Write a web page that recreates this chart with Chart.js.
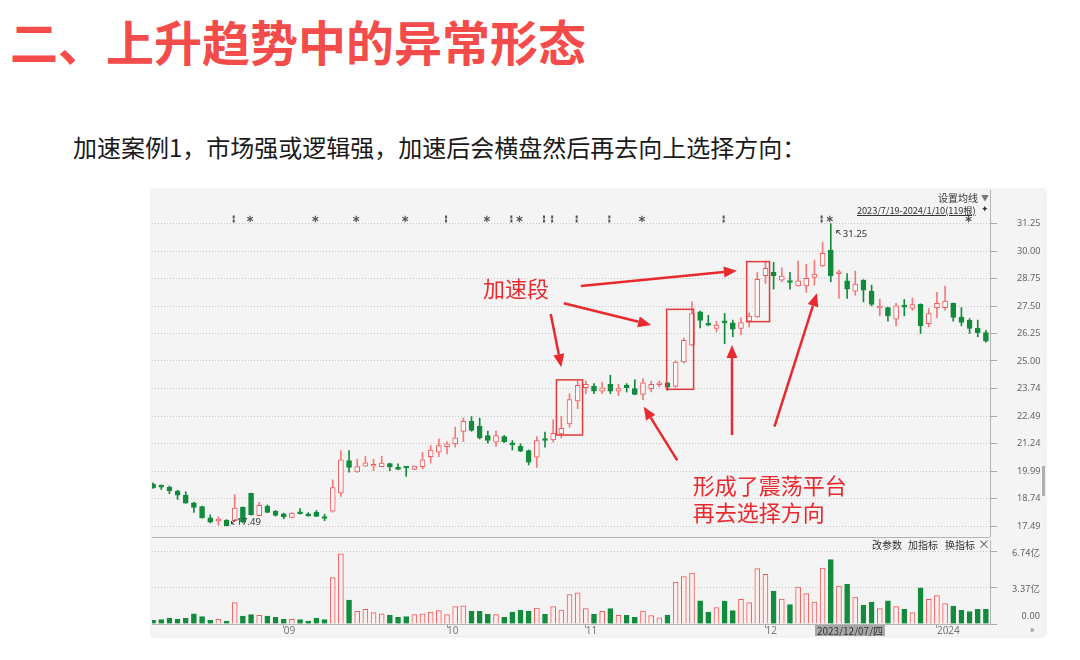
<!DOCTYPE html>
<html lang="zh">
<head>
<meta charset="utf-8">
<title>上升趋势中的异常形态</title>
<script src="https://cdn.jsdelivr.net/npm/chart.js@4.4.1/dist/chart.umd.min.js"></script>
<style>
  body { margin:0; width:1080px; height:660px; background:#fff; position:relative; overflow:hidden;
         font-family:"Noto Sans CJK SC","Noto Sans",sans-serif; }
  #title { position:absolute; left:10px; top:16px; font-size:48px; line-height:48px; font-weight:bold; color:#f44b4b; white-space:nowrap; }
  #sub { position:absolute; left:73px; top:135px; font-size:24px; line-height:24px; color:#1a1a1a; white-space:nowrap; }
  #panel { position:absolute; left:152px; top:190px; width:893px; height:446px; background:#f4f4f4; overflow:hidden;
           box-shadow:0 0 3px rgba(0,0,0,.18); }
  #panel canvas { position:absolute; left:-3px; }
  #kline { top:0; }
  #vol { top:347px; }
  .t { position:absolute; font-size:10px; line-height:12px; color:#333; white-space:nowrap; }
  #sep { position:absolute; left:0; top:347px; width:838px; height:1px; background:#b4b4b4; }
  #range { text-decoration:underline; font-size:9.3px; letter-spacing:-0.1px; }
  #dbox { position:absolute; left:663px; top:435px; width:70px; height:12px; background:#a8a8a8; color:#333;
          font-size:10px; line-height:12px; text-align:center; }
  #scroll { position:absolute; left:890px; top:276px; width:3px; height:30px; background:#b0b0b0; }
</style>
</head>
<body>
<div id="title">二、上升趋势中的异常形态</div>
<div id="sub">加速案例1，市场强或逻辑强，加速后会横盘然后再去向上选择方向：</div>

<div id="panel">
  <canvas id="kline" width="896" height="347"></canvas>
  <canvas id="vol" width="896" height="99"></canvas>
  <div id="sep"></div>
  <div class="t" style="left:786px;top:2px;">设置均线</div>
  <div class="t" style="left:829px;top:2px;color:#777;font-size:8px;">▼</div>
  <div class="t" id="range" style="left:705px;top:14px;">2023/7/19-2024/1/10(119根)</div>
  <div class="t" style="left:829px;top:13px;font-size:9px;">✦</div>
  <div class="t" style="left:720px;top:349px;">改参数</div>
  <div class="t" style="left:756px;top:349px;">加指标</div>
  <div class="t" style="left:793px;top:349px;">换指标</div>
  <div class="t" style="left:826px;top:348px;font-size:12px;color:#555;">×</div>
  <div id="dbox">2023/12/07/四</div>
  <div class="t" style="left:878px;top:434px;font-size:9px;color:#555;">»</div>
  <div id="scroll"></div>
</div>

<script>
// 交易日（可见区间 119 根中的后 103 根）
const dates = [
  '2023/08/10','2023/08/11','2023/08/14','2023/08/15','2023/08/16','2023/08/17','2023/08/18','2023/08/21',
  '2023/08/22','2023/08/23','2023/08/24','2023/08/25','2023/08/28','2023/08/29','2023/08/30','2023/08/31',
  '2023/09/01','2023/09/04','2023/09/05','2023/09/06','2023/09/07','2023/09/08','2023/09/11','2023/09/12',
  '2023/09/13','2023/09/14','2023/09/15','2023/09/18','2023/09/19','2023/09/20','2023/09/21','2023/09/22',
  '2023/09/25','2023/09/26','2023/09/27','2023/09/28',
  '2023/10/09','2023/10/10','2023/10/11','2023/10/12','2023/10/13','2023/10/16','2023/10/17','2023/10/18',
  '2023/10/19','2023/10/20','2023/10/23','2023/10/24','2023/10/25','2023/10/26','2023/10/27','2023/10/30','2023/10/31',
  '2023/11/01','2023/11/02','2023/11/03','2023/11/06','2023/11/07','2023/11/08','2023/11/09','2023/11/10',
  '2023/11/13','2023/11/14','2023/11/15','2023/11/16','2023/11/17','2023/11/20','2023/11/21','2023/11/22',
  '2023/11/23','2023/11/24','2023/11/27','2023/11/28','2023/11/29','2023/11/30',
  '2023/12/01','2023/12/04','2023/12/05','2023/12/06','2023/12/07','2023/12/08','2023/12/11','2023/12/12',
  '2023/12/13','2023/12/14','2023/12/15','2023/12/18','2023/12/19','2023/12/20','2023/12/21','2023/12/22',
  '2023/12/25','2023/12/26','2023/12/27','2023/12/28','2023/12/29',
  '2024/01/02','2024/01/03','2024/01/04','2024/01/05','2024/01/08','2024/01/09','2024/01/10'
];

const open = [
  19.40,19.33,19.25,19.08,18.90,18.55,18.37,17.86,17.72,17.76,17.73,18.34,18.98,17.96,18.38,18.16,
  18.04,17.88,18.11,18.05,18.11,17.92,18.16,18.98,20.47,19.95,20.21,20.21,20.19,20.33,20.16,20.16,
  20.07,20.19,20.64,20.85,21.10,21.23,21.79,22.25,22.03,21.61,21.30,21.56,21.20,21.12,20.92,20.62,
  21.46,21.41,21.68,22.14,23.18,23.78,23.86,23.63,23.94,23.63,23.89,23.74,23.48,23.74,23.92,24.00,
  23.84,24.96,25.72,27.24,26.70,26.48,26.81,26.73,26.48,26.81,27.01,28.88,29.03,28.68,28.64,28.42,
  28.42,28.80,29.33,30.05,28.97,28.65,28.18,28.68,28.18,27.41,27.43,26.90,27.51,27.39,27.58,26.70,
  27.42,27.42,27.62,27.00,26.85,26.48,26.29
];
const high = [
  19.45,19.36,19.31,19.12,19.05,18.57,18.40,18.00,17.91,17.78,18.92,18.36,18.99,18.57,18.45,18.20,
  18.08,18.10,18.28,18.10,18.20,18.03,19.59,20.92,20.92,20.53,20.67,20.53,20.67,20.35,20.32,20.17,
  20.22,20.85,21.15,21.46,21.33,21.99,22.41,22.47,22.40,21.81,21.81,21.61,21.38,21.23,20.95,21.56,
  21.76,22.32,22.47,23.51,24.09,24.09,23.97,24.04,24.35,23.94,23.97,24.15,24.19,24.09,24.09,24.02,
  25.00,26.05,27.69,27.27,27.08,26.81,27.16,26.86,26.96,27.19,29.03,29.55,29.49,29.24,29.03,29.55,
  29.40,29.59,30.40,31.25,29.14,28.98,29.09,28.70,28.45,27.81,27.45,27.62,27.80,27.87,27.60,27.39,
  28.12,28.41,27.64,27.43,26.93,26.86,26.40
];
const low = [
  19.20,19.15,18.96,18.70,18.52,18.11,17.85,17.63,17.52,17.49,17.70,17.63,17.98,17.95,18.10,17.94,
  17.82,17.86,18.03,17.93,17.92,17.73,18.12,18.84,19.94,19.93,20.20,20.01,20.18,20.01,20.05,19.75,
  20.06,20.09,20.36,20.64,20.77,21.08,21.33,21.80,21.45,21.26,21.11,21.28,20.95,20.87,20.27,20.16,
  21.08,21.30,21.49,21.99,22.83,23.51,23.51,23.51,23.51,23.43,23.59,23.46,23.24,23.59,23.82,23.66,
  23.80,24.90,25.70,26.50,26.60,26.32,25.79,26.10,26.20,26.55,26.99,28.53,28.27,28.60,28.27,28.40,
  28.12,28.45,29.30,28.60,27.85,27.85,27.99,27.69,27.50,27.05,26.81,26.60,27.05,27.30,26.25,26.55,
  26.96,27.30,26.81,26.60,26.25,26.10,25.85
];
const close = [
  19.22,19.26,19.10,18.89,18.53,18.34,17.86,17.66,17.74,17.50,18.31,17.66,18.01,18.43,18.11,17.97,
  17.90,18.08,18.05,17.95,17.93,17.83,19.24,20.50,20.16,20.19,20.36,20.22,20.35,20.18,20.07,20.13,
  20.22,20.50,20.95,21.15,21.23,21.50,22.25,21.84,21.50,21.38,21.61,21.33,21.18,20.89,20.39,21.38,
  21.38,21.71,21.94,23.24,23.89,23.94,23.63,23.78,23.63,23.74,23.78,23.48,24.00,23.94,23.94,23.81,
  24.95,25.94,27.16,26.85,26.63,26.63,26.73,26.45,26.75,27.04,28.71,29.21,28.88,28.86,28.57,28.65,
  28.76,28.95,29.90,28.88,29.00,28.27,28.50,28.22,27.57,27.42,27.05,27.51,27.45,27.57,26.60,27.16,
  27.62,27.72,26.98,26.75,26.48,26.29,25.90
];
// 成交量（亿）
const volume = [
  0.34,0.40,0.55,0.43,0.55,0.95,0.68,0.34,0.43,0.28,1.97,0.74,0.86,0.80,0.74,0.62,
  0.43,0.43,0.40,0.28,0.55,0.40,4.28,6.49,2.22,1.17,1.35,1.05,0.95,0.83,0.62,0.68,
  0.86,0.95,1.11,1.23,0.86,1.60,1.69,1.17,1.17,0.89,0.86,0.62,1.11,1.29,1.17,1.48,
  0.89,1.60,1.29,2.71,2.89,1.42,0.89,1.17,1.42,0.80,0.80,0.62,1.20,0.77,0.58,0.83,
  3.88,4.37,4.71,2.15,1.11,1.51,2.12,1.23,2.28,1.97,5.11,4.59,3.05,2.31,1.79,3.42,
  2.80,2.03,5.17,5.94,3.51,3.66,2.49,1.75,2.03,1.42,2.15,1.60,1.35,1.05,3.35,2.28,
  2.62,1.88,1.66,1.26,1.14,1.35,1.35
];

const priceTicks = [17.49, 18.74, 19.99, 21.24, 22.49, 23.74, 25.00, 26.25, 27.50, 28.75, 30.00, 31.25];
const volTicks = [0, 3.37, 6.74];
const volTickText = ['0.00', '3.37亿', '6.74亿'];
const monthTickIdx = [16, 36, 53, 75, 96];
const monthTickText = ['09', '10', '11', '12', '2024'];

// 顶部信息地雷标记
const markerIdx = [10, 12, 20, 25, 31, 36, 41, 44, 45, 48, 49, 52, 56, 60, 70, 82, 83, 100];
const markerType = ['i','*','*','*','*','i','*','i','*','i','i','i','i','*','i','i','*','*'];

// 标注：方框 [起始根, 结束根, 上沿价, 下沿价]，箭头 [根, 价, 根, 价]
const boxes = [[49.4, 52.6, 24.14, 21.63], [62.9, 66.2, 27.35, 23.71], [72.7, 75.5, 29.52, 26.79]];
const arrows = [
  [52.4, 28.41, 71.5, 29.11],
  [50.3, 27.63, 61.0, 26.64],
  [48.7, 27.14, 50.0, 24.72],
  [64.2, 20.48, 60.1, 22.92],
  [70.9, 21.63, 70.9, 25.73],
  [76.1, 22.01, 81.3, 28.08]
];
const notes = [[40.4, 28.28, '加速段'], [66.1, 19.31, '形成了震荡平台'], [66.1, 18.08, '再去选择方向']];

const RED = '#f05a5a', RED_WICK = '#f37b7b', GREEN = '#138b3c', HOLLOW = '#fdf7f7', MARK = '#e8292e';
const isUp = i => close[i] >= open[i];

Chart.defaults.font.family = '"Noto Sans CJK SC", "Noto Sans", sans-serif';
Chart.defaults.animation = false;

function drawArrow(ctx, x1, y1, x2, y2) {
  const ang = Math.atan2(y2 - y1, x2 - x1), L = 13, W = 5.5;
  const bx = x2 - L * Math.cos(ang), by = y2 - L * Math.sin(ang);
  ctx.beginPath(); ctx.moveTo(x1, y1); ctx.lineTo(bx, by); ctx.stroke();
  ctx.beginPath(); ctx.moveTo(x2, y2);
  ctx.lineTo(bx + W * Math.sin(ang), by - W * Math.cos(ang));
  ctx.lineTo(bx - W * Math.sin(ang), by + W * Math.cos(ang));
  ctx.closePath(); ctx.fill();
}

// K线图上的标记、极值和手绘标注
const klineMarks = {
  id: 'klineMarks',
  afterDatasetsDraw(chart) {
    const ctx = chart.ctx, xs = chart.scales.x, ys = chart.scales.y;
    const px = i => xs.getPixelForValue(i), py = v => ys.getPixelForValue(v);
    ctx.save();

    ctx.fillStyle = '#555'; ctx.strokeStyle = '#555'; ctx.lineWidth = 1.2;
    markerIdx.forEach((idx, k) => {
      const x = px(idx) - 1, y = chart.chartArea.top + 29;
      if (markerType[k] === '*') {
        for (let a = 0; a < 3; a++) {
          const ang = a * Math.PI / 3 + Math.PI / 2;
          ctx.beginPath();
          ctx.moveTo(x + 3.3 * Math.cos(ang), y + 3.3 * Math.sin(ang));
          ctx.lineTo(x - 3.3 * Math.cos(ang), y - 3.3 * Math.sin(ang));
          ctx.stroke();
        }
      } else {
        ctx.fillRect(x - 1, y - 3.5, 2, 3);
        ctx.fillRect(x - 1, y + 0.5, 2, 3);
      }
    });

    // 最高、最低价
    let lo = 0, hi = 0;
    low.forEach((v, i) => { if (v < low[lo]) lo = i; });
    high.forEach((v, i) => { if (v > high[hi]) hi = i; });
    ctx.font = '9.5px "Noto Sans", sans-serif';
    ctx.fillStyle = '#333'; ctx.strokeStyle = '#333'; ctx.lineWidth = 1;
    ctx.textAlign = 'left'; ctx.textBaseline = 'middle';
    let x = px(lo), y = py(low[lo]);
    ctx.beginPath(); ctx.moveTo(x + 9, y - 7); ctx.lineTo(x + 5, y - 2); ctx.lineTo(x + 5, y - 5); ctx.moveTo(x + 5, y - 2); ctx.lineTo(x + 8, y - 2); ctx.stroke();
    ctx.fillText(low[lo].toFixed(2), x + 10, y - 4);
    x = px(hi); y = py(high[hi]);
    ctx.beginPath(); ctx.moveTo(x + 10, y + 11); ctx.lineTo(x + 6, y + 7); ctx.lineTo(x + 6, y + 10); ctx.moveTo(x + 6, y + 7); ctx.lineTo(x + 9, y + 7); ctx.stroke();
    ctx.fillText(high[hi].toFixed(2), x + 12, y + 10.5);

    // 方框
    ctx.strokeStyle = '#e23b3b'; ctx.lineWidth = 1.5;
    boxes.forEach(b => {
      ctx.strokeRect(px(b[0]), py(b[2]), px(b[1]) - px(b[0]), py(b[3]) - py(b[2]));
    });
    // 箭头
    ctx.strokeStyle = MARK; ctx.fillStyle = MARK; ctx.lineWidth = 2.5;
    arrows.forEach(a => drawArrow(ctx, px(a[0]), py(a[1]), px(a[2]), py(a[3])));
    // 文字
    ctx.font = '22px "Noto Sans CJK SC", sans-serif';
    ctx.fillStyle = MARK; ctx.textBaseline = 'middle';
    notes.forEach(n => ctx.fillText(n[2], px(n[0]), py(n[1])));
    ctx.restore();
  }
};

new Chart(document.getElementById('kline'), {
  type: 'bar',
  data: {
    labels: dates,
    datasets: [
      {
        label: '实体',
        data: open.map((o, i) => [o, close[i]]),
        backgroundColor: dates.map((d, i) => isUp(i) ? HOLLOW : GREEN),
        borderColor: dates.map((d, i) => isUp(i) ? RED : GREEN),
        borderWidth: 1,
        borderSkipped: false,
        barThickness: 5,
        minBarLength: 2,
        grouped: false
      },
      {
        label: '影线',
        data: low.map((l, i) => [l, high[i]]),
        backgroundColor: dates.map((d, i) => isUp(i) ? RED_WICK : GREEN),
        borderWidth: 0,
        barThickness: 1,
        grouped: false
      }
    ]
  },
  options: {
    responsive: false,
    layout: { padding: 0 },
    plugins: { legend: { display: false }, tooltip: { enabled: false } },
    scales: {
      x: { display: false, offset: true },
      y: {
        position: 'right',
        min: 16.99,
        max: 32.78,
        afterBuildTicks: axis => { axis.ticks = priceTicks.map(v => ({ value: v })); },
        afterFit: axis => { axis.width = 55; axis.paddingTop = 0; axis.paddingBottom = 0; },
        grid: { color: '#c6c6c6', tickColor: '#a8a8a8', tickLength: 7 },
        border: { display: true, color: '#b4b4b4', dash: [1, 2] },
        ticks: {
          padding: 20,
          crossAlign: 'near',
          color: '#666',
          font: { size: 9.2, family: '"Noto Sans", sans-serif' },
          callback: v => Number(v).toFixed(2)
        }
      }
    }
  },
  plugins: [klineMarks]
});

// 成交量坐标文字（0.00 贴底显示）
const volLabels = {
  id: 'volLabels',
  afterDraw(chart) {
    const ctx = chart.ctx, ys = chart.scales.y;
    ctx.save();
    ctx.font = '9.5px "Noto Sans CJK SC", sans-serif';
    ctx.fillStyle = '#666'; ctx.textAlign = 'right'; ctx.textBaseline = 'middle';
    volTicks.forEach((v, k) => {
      const y = Math.min(ys.getPixelForValue(v) + 1, chart.chartArea.bottom - 9);
      ctx.fillText(volTickText[k], 891, y);
    });
    ctx.restore();
  }
};

new Chart(document.getElementById('vol'), {
  type: 'bar',
  data: {
    labels: dates,
    datasets: [{
      label: '成交量',
      data: volume,
      backgroundColor: dates.map((d, i) => isUp(i) ? '#fdeeee' : GREEN),
      borderColor: dates.map((d, i) => isUp(i) ? RED : GREEN),
      borderWidth: 1,
      borderSkipped: 'bottom',
      barThickness: 5
    }]
  },
  options: {
    responsive: false,
    layout: { padding: { top: 3, left: 0, right: 0, bottom: 0 } },
    plugins: { legend: { display: false }, tooltip: { enabled: false } },
    scales: {
      x: {
        offset: true,
        afterFit: axis => { axis.height = 12; axis.paddingLeft = 0; axis.paddingRight = 0; },
        grid: {
          offset: false,
          drawOnChartArea: false,
          tickLength: 4,
          color: ctx => monthTickIdx.includes(ctx.index) ? '#999' : 'rgba(0,0,0,0)'
        },
        border: { display: true, color: '#b4b4b4' },
        ticks: {
          autoSkip: false,
          maxRotation: 0,
          minRotation: 0,
          align: 'start',
          padding: -3,
          color: '#777',
          font: { size: 10, family: '"Noto Sans", sans-serif' },
          callback: (v, i) => {
            const k = monthTickIdx.indexOf(i);
            return k >= 0 ? monthTickText[k] : '';
          }
        }
      },
      y: {
        position: 'right',
        min: 0,
        max: 7.76,
        afterBuildTicks: axis => { axis.ticks = volTicks.map(v => ({ value: v })); },
        afterFit: axis => { axis.width = 55; axis.paddingTop = 0; axis.paddingBottom = 0; },
        grid: {
          color: ctx => ctx.tick && ctx.tick.value === 0 ? 'rgba(0,0,0,0)' : '#c6c6c6',
          tickColor: '#a8a8a8',
          tickLength: 7
        },
        border: { display: true, color: '#b4b4b4', dash: [1, 2] },
        ticks: { display: false }
      }
    }
  },
  plugins: [volLabels]
});
</script>
</body>
</html>
